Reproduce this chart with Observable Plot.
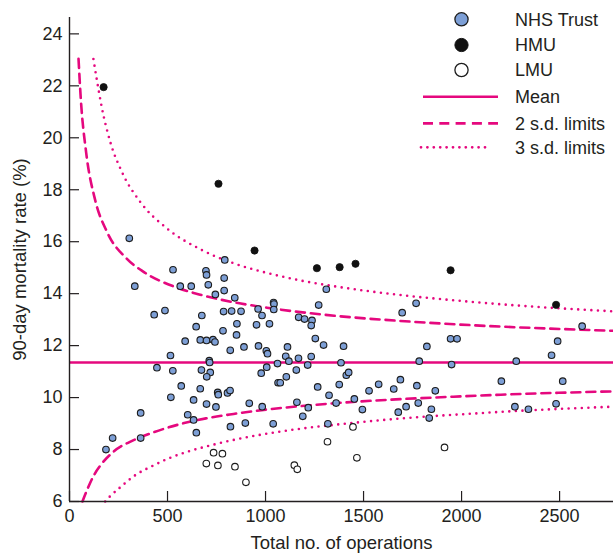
<!DOCTYPE html>
<html><head><meta charset="utf-8">
<script src="https://cdn.jsdelivr.net/npm/d3@7"></script>
<script src="https://cdn.jsdelivr.net/npm/@observablehq/plot@0.6"></script>
<style>
html,body{margin:0;padding:0;background:#fff;}
#chart{position:relative;width:613px;height:554px;}
#legend{position:absolute;left:0;top:0;pointer-events:none;}
</style></head><body><div id="chart"></div>
<script>
const xTicks = [0, 500, 1000, 1500, 2000, 2500];
const yTicks = [6, 8, 10, 12, 14, 16, 18, 20, 22, 24];
const xLabel = "Total no. of operations";
const yLabel = "90-day mortality rate (%)";

const nhsN = [305,528,696,699,792,789,333,565,621,708,789,744,843,432,487,675,786,827,875,854,646,783,852,590,667,699,732,742,890,820,515,446,527,673,713,715,718,700,570,667,517,633,756,759,806,819,699,747,917,603,633,363,821,897,647,220,363,186,964,962,982,954,1020,1041,1043,1042,1004,1010,1006,978,1061,1064,1075,1106,1103,1112,1119,1157,1168,1215,1233,1169,1199,1237,1233,1254,1271,1310,1296,1266,983,1039,1160,1190,1218,1318,1324,1360,1376,1385,1398,1412,1424,1453,1494,1528,1577,1654,1688,1697,1768,1772,1784,1823,1677,1717,1779,1835,1846,1866,1944,1977,1949,2203,2272,2341,2279,2459,2490,2615,2482,2516];
const nhsRate = [16.13,14.92,14.88,14.72,15.30,14.60,14.29,14.29,14.29,14.34,14.12,13.97,13.84,13.19,13.35,13.16,13.31,13.33,13.32,12.84,12.73,12.57,12.41,12.17,12.22,12.20,12.23,12.14,11.95,11.82,11.62,11.15,11.03,11.06,11.42,11.35,10.97,10.80,10.45,10.34,10.01,9.91,10.20,10.11,10.18,10.27,9.75,9.64,9.78,9.34,9.14,9.41,8.88,9.02,8.65,8.44,8.44,8.00,11.99,13.41,13.16,12.80,12.84,13.66,13.60,13.39,11.80,11.69,11.17,10.94,11.31,10.57,10.57,10.80,11.59,11.95,11.40,11.06,11.51,11.25,11.58,13.09,13.02,12.97,12.77,12.27,13.56,14.17,12.02,10.41,9.65,8.99,9.82,9.28,9.61,8.99,10.09,9.79,10.50,11.34,11.98,10.86,10.97,9.95,9.54,10.26,10.51,10.33,10.69,13.27,13.63,10.46,11.40,11.97,9.44,9.65,9.79,9.21,9.55,10.26,12.26,12.26,11.27,10.63,9.65,9.55,11.40,11.63,12.17,12.75,9.76,10.63];

const hmuN = [174, 760, 944, 1262, 1378, 1459, 1944, 2482];
const hmuRate = [21.95, 18.23, 15.66, 14.98, 15.02, 15.15, 14.90, 13.57];

const lmuN = [735, 780, 698, 757, 844, 900, 1147, 1162, 1316, 1446, 1466, 1913];
const lmuRate = [7.88, 7.84, 7.46, 7.39, 7.34, 6.74, 7.40, 7.24, 8.30, 8.87, 7.68, 8.08];

const meanRate = 11.35;

const upper2N = [46, 58, 85, 131, 191, 293, 378, 531, 667, 837, 1007, 1177, 1350, 1687, 1993, 2775];
const upper2 = [23.04, 21.46, 19.43, 17.60, 16.38, 15.34, 14.84, 14.28, 13.96, 13.67, 13.46, 13.29, 13.15, 12.95, 12.81, 12.57];
const lower2N = [66, 90, 126, 157, 225, 327, 424, 560, 696, 837, 1007, 1177, 1350, 1687, 2010, 2200, 2775];
const lower2 = [6.00, 6.45, 7.03, 7.38, 7.92, 8.36, 8.65, 8.97, 9.20, 9.37, 9.54, 9.67, 9.78, 9.94, 10.05, 10.11, 10.24];
const upper3N = [122, 140, 165, 208, 267, 361, 497, 667, 837, 1007, 1177, 1372, 1687, 2027, 2367, 2775];
const upper3 = [23.03, 22.21, 21.16, 19.84, 18.69, 17.53, 16.51, 15.71, 15.17, 14.80, 14.51, 14.26, 13.95, 13.70, 13.50, 13.32];
const lower3N = [182, 203, 255, 339, 424, 509, 594, 704, 837, 1007, 1177, 1350, 1650, 1840, 2030, 2200, 2775];
const lower3 = [6.00, 6.17, 6.52, 7.03, 7.37, 7.67, 7.90, 8.13, 8.37, 8.61, 8.80, 8.95, 9.17, 9.28, 9.37, 9.45, 9.65];

const legendLabels = ["NHS Trust", "HMU", "LMU", "Mean", "2 s.d. limits", "3 s.d. limits"];

const MAG = "#e5087e";
const BLUE = "#7d9fd6";
const INK = "#231f20";
const FONT = "'Liberation Sans', Arial, Helvetica, sans-serif";

const pts = (xs, ys) => xs.map((n, i) => ({n, v: ys[i]}));
const nhs = pts(nhsN, nhsRate), hmu = pts(hmuN, hmuRate), lmu = pts(lmuN, lmuRate);

const dashed = {stroke: MAG, strokeWidth: 2.6, strokeDasharray: "9,6", curve: "monotone-x"};
const dotted = {stroke: MAG, strokeWidth: 2.6, strokeDasharray: "0,6.6", strokeLinecap: "round", curve: "monotone-x"};

const chart = Plot.plot({
  width: 613, height: 554,
  marginLeft: 69, marginRight: 0, marginTop: 17, marginBottom: 53,
  style: {fontFamily: FONT, fontSize: "18px", color: INK, background: "white"},
  x: {domain: [0, 2775]},
  y: {domain: [6, 24.63]},
  marks: [
    Plot.line(pts(upper2N, upper2), {x: "n", y: "v", ...dashed}),
    Plot.line(pts(lower2N, lower2), {x: "n", y: "v", ...dashed}),
    Plot.line(pts(upper3N, upper3), {x: "n", y: "v", ...dotted}),
    Plot.line(pts(lower3N, lower3), {x: "n", y: "v", ...dotted}),
    Plot.ruleY([meanRate], {stroke: MAG, strokeWidth: 2.4}),
    Plot.ruleX([0], {stroke: INK, strokeWidth: 1.4}),
    Plot.ruleY([6], {stroke: INK, strokeWidth: 1.4}),
    Plot.axisX(xTicks, {tickSize: 0, tickPadding: 8, label: null, tickFormat: d => String(d), fontSize: 18, fill: INK}),
    Plot.axisX(xTicks, {tickSize: -10, text: null, label: null, stroke: INK, strokeWidth: 1.2}),
    Plot.axisY(yTicks, {tickSize: 0, tickPadding: 7, label: null, tickFormat: d => String(d), fontSize: 18, fill: INK}),
    Plot.axisY(yTicks, {tickSize: -10, text: null, label: null, stroke: INK, strokeWidth: 1.2}),
    Plot.text([xLabel], {text: d => d, frameAnchor: "bottom", dy: 41.5, textAnchor: "middle", lineAnchor: "middle", fontSize: 18.5, fill: INK}),
    Plot.text([yLabel], {text: d => d, frameAnchor: "left", dx: -49, rotate: -90, textAnchor: "middle", lineAnchor: "middle", fontSize: 18.5, fill: INK}),
    Plot.dot(nhs, {x: "n", y: "v", r: 3.3, fill: BLUE, stroke: "#1c1c1c", strokeWidth: 1.1}),
    Plot.dot(hmu, {x: "n", y: "v", r: 3.6, fill: "#111", stroke: "#111", strokeWidth: 0.8}),
    Plot.dot(lmu, {x: "n", y: "v", r: 3.3, fill: "white", stroke: "#1c1c1c", strokeWidth: 1.1})
  ]
});
document.getElementById("chart").appendChild(chart);

// legend overlay
const lg = d3.select("#chart").append("svg").attr("id", "legend")
  .attr("width", 613).attr("height", 170)
  .style("font-family", FONT).style("font-size", "18px");
const symX = 461.5, lineX1 = 423, lineX2 = 498, textX = 515;
const rowY = [19.3, 45, 70, 96.7, 123.3, 147.3];
const circleStyles = [
  {fill: BLUE, stroke: "#1c1c1c", sw: 1.3},
  {fill: "#111", stroke: "#111", sw: 1},
  {fill: "white", stroke: "#1c1c1c", sw: 1.3}
];
legendLabels.forEach((lab, i) => {
  const y = rowY[i];
  if (i < 3) {
    const s = circleStyles[i];
    lg.append("circle").attr("cx", symX).attr("cy", y).attr("r", 6.6)
      .attr("fill", s.fill).attr("stroke", s.stroke).attr("stroke-width", s.sw);
  } else {
    const l = lg.append("line").attr("x1", lineX1).attr("x2", lineX2).attr("y1", y).attr("y2", y)
      .attr("stroke", MAG).attr("stroke-width", i === 3 ? 2.6 : 2.8);
    if (i === 4) l.attr("stroke-dasharray", "10,6.3");
    if (i === 5) l.attr("stroke-dasharray", "0,6.4").attr("stroke-linecap", "round").attr("x1", lineX1 - 2).attr("x2", lineX2 - 10);
  }
  lg.append("text").attr("x", textX).attr("y", y + 6.4).attr("fill", INK).text(lab);
});
</script></body></html>
